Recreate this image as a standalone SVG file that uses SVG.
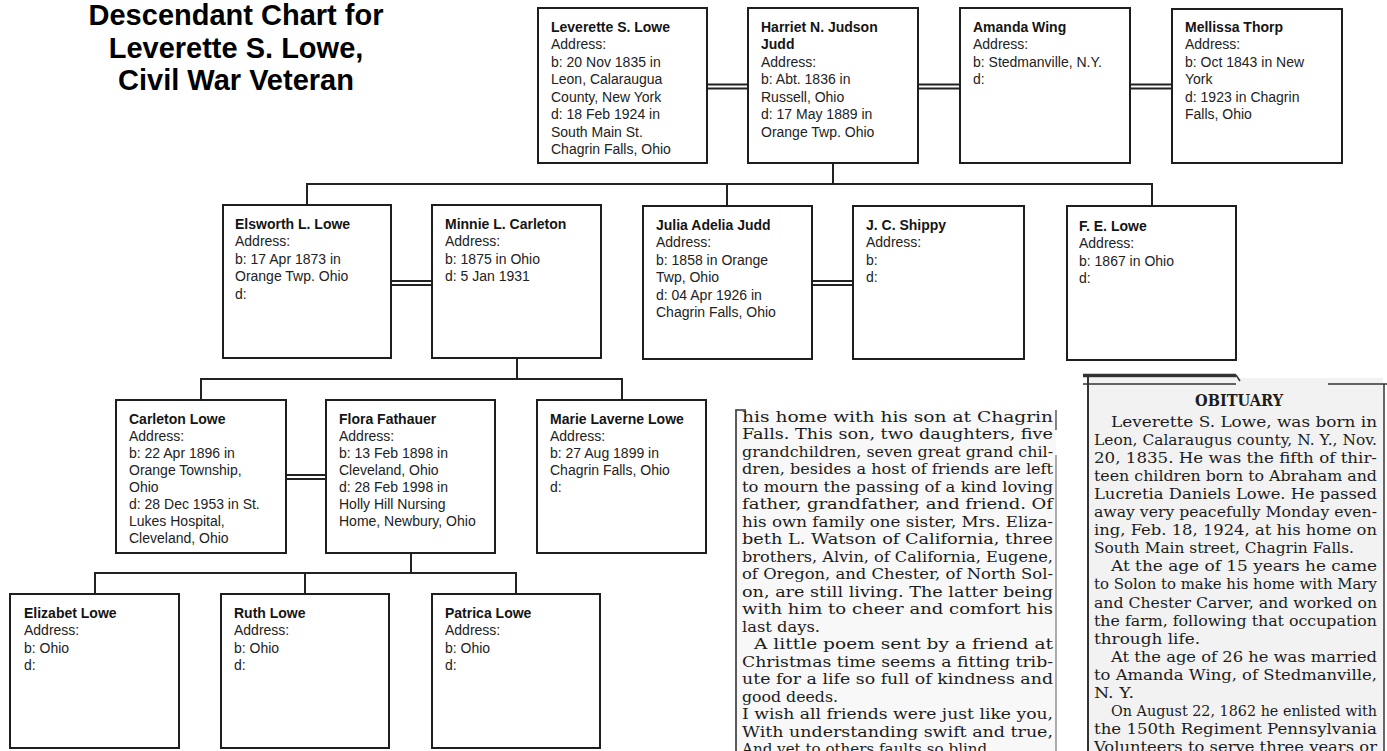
<svg xmlns="http://www.w3.org/2000/svg" width="1387" height="751" viewBox="0 0 1387 751">
<style>
.bg{fill:#ffffff}
.box{fill:#ffffff;stroke:#1e1e1e;stroke-width:2}
.ln{stroke:#222;stroke-width:2;fill:none}
.t{font-family:"Liberation Sans",Arial,sans-serif;font-size:14px;fill:#222}
.nm{font-weight:bold;fill:#151515}
.title{font-family:"Liberation Sans",Arial,sans-serif;font-size:29px;font-weight:bold;fill:#000;text-anchor:middle}
.np{font-family:"DejaVu Serif","Liberation Serif",serif;font-size:14.5px;fill:#1c1c1c}
.np2{font-family:"DejaVu Serif","Liberation Serif",serif;font-size:14px;fill:#1c1c1c}
.npb{font-family:"DejaVu Serif","Liberation Serif",serif;font-size:16px;font-weight:bold;fill:#1c1c1c}
.clipedge{stroke:#333;fill:none}
</style>
<rect class="bg" x="0" y="0" width="1387" height="751"/>

<g id="title">
<text class="title" x="236" y="25">Descendant Chart for</text>
<text class="title" x="236" y="57.5">Leverette S. Lowe,</text>
<text class="title" x="236" y="90">Civil War Veteran</text>
</g>

<g id="connectors">
<line class="ln" x1="707" y1="84.5" x2="748" y2="84.5" stroke-width="1.6"/>
<line class="ln" x1="707" y1="88.5" x2="748" y2="88.5" stroke-width="1.6"/>
<line class="ln" x1="918" y1="84.5" x2="960" y2="84.5" stroke-width="1.6"/>
<line class="ln" x1="918" y1="88.5" x2="960" y2="88.5" stroke-width="1.6"/>
<line class="ln" x1="1130" y1="84.5" x2="1172" y2="84.5" stroke-width="1.6"/>
<line class="ln" x1="1130" y1="88.5" x2="1172" y2="88.5" stroke-width="1.6"/>
<polyline class="ln" points="833,163 833,184"/>
<polyline class="ln" points="307,205 307,184 1152,184 1152,206"/>
<line class="ln" x1="727" y1="184" x2="727" y2="206"/>
<line class="ln" x1="391" y1="281" x2="432" y2="281" stroke-width="1.6"/>
<line class="ln" x1="391" y1="285" x2="432" y2="285" stroke-width="1.6"/>
<line class="ln" x1="812" y1="281" x2="853" y2="281" stroke-width="1.6"/>
<line class="ln" x1="812" y1="285" x2="853" y2="285" stroke-width="1.6"/>
<polyline class="ln" points="517,358 517,379"/>
<polyline class="ln" points="201,400 201,379 622,379 622,400"/>
<line class="ln" x1="286" y1="475" x2="326" y2="475" stroke-width="1.6"/>
<line class="ln" x1="286" y1="479" x2="326" y2="479" stroke-width="1.6"/>
<polyline class="ln" points="411,553 411,573"/>
<polyline class="ln" points="95,594 95,573 516,573 516,594"/>
<line class="ln" x1="305" y1="573" x2="305" y2="594"/>
</g>

<g id="n-leverette">
<rect class="box" x="538" y="8" width="169" height="155"/>
<text class="t" x="551" y="31.7"><tspan class="nm">Leverette S. Lowe</tspan><tspan x="551" dy="17.47">Address:</tspan><tspan x="551" dy="17.47">b: 20 Nov 1835 in</tspan><tspan x="551" dy="17.47">Leon, Calaraugua</tspan><tspan x="551" dy="17.47">County, New York</tspan><tspan x="551" dy="17.47">d: 18 Feb 1924 in</tspan><tspan x="551" dy="17.47">South Main St.</tspan><tspan x="551" dy="17.47">Chagrin Falls, Ohio</tspan></text>
</g>
<g id="n-harriet">
<rect class="box" x="748" y="8" width="170" height="155"/>
<text class="t" x="761" y="31.7"><tspan class="nm">Harriet N. Judson</tspan><tspan x="761" dy="17.47" class="nm">Judd</tspan><tspan x="761" dy="17.47">Address:</tspan><tspan x="761" dy="17.47">b: Abt. 1836 in</tspan><tspan x="761" dy="17.47">Russell, Ohio</tspan><tspan x="761" dy="17.47">d: 17 May 1889 in</tspan><tspan x="761" dy="17.47">Orange Twp. Ohio</tspan></text>
</g>
<g id="n-amanda">
<rect class="box" x="960" y="8" width="170" height="155"/>
<text class="t" x="973" y="31.7"><tspan class="nm">Amanda Wing</tspan><tspan x="973" dy="17.47">Address:</tspan><tspan x="973" dy="17.47">b: Stedmanville, N.Y.</tspan><tspan x="973" dy="17.47">d:</tspan></text>
</g>
<g id="n-mellissa">
<rect class="box" x="1172" y="9" width="170" height="154"/>
<text class="t" x="1185" y="31.7"><tspan class="nm">Mellissa Thorp</tspan><tspan x="1185" dy="17.47">Address:</tspan><tspan x="1185" dy="17.47">b: Oct 1843 in New</tspan><tspan x="1185" dy="17.47">York</tspan><tspan x="1185" dy="17.47">d: 1923 in Chagrin</tspan><tspan x="1185" dy="17.47">Falls, Ohio</tspan></text>
</g>

<g id="n-elsworth">
<rect class="box" x="223" y="205" width="168" height="153"/>
<text class="t" x="235" y="229"><tspan class="nm">Elsworth L. Lowe</tspan><tspan x="235" dy="17.4">Address:</tspan><tspan x="235" dy="17.4">b: 17 Apr 1873 in</tspan><tspan x="235" dy="17.4">Orange Twp. Ohio</tspan><tspan x="235" dy="17.4">d:</tspan></text>
</g>
<g id="n-minnie">
<rect class="box" x="432" y="205" width="169" height="153"/>
<text class="t" x="445" y="229"><tspan class="nm">Minnie L. Carleton</tspan><tspan x="445" dy="17.4">Address:</tspan><tspan x="445" dy="17.4">b: 1875 in Ohio</tspan><tspan x="445" dy="17.4">d: 5 Jan 1931</tspan></text>
</g>
<g id="n-julia">
<rect class="box" x="643" y="206" width="169" height="153"/>
<text class="t" x="656" y="230"><tspan class="nm">Julia Adelia Judd</tspan><tspan x="656" dy="17.4">Address:</tspan><tspan x="656" dy="17.4">b: 1858 in Orange</tspan><tspan x="656" dy="17.4">Twp, Ohio</tspan><tspan x="656" dy="17.4">d: 04 Apr 1926 in</tspan><tspan x="656" dy="17.4">Chagrin Falls, Ohio</tspan></text>
</g>
<g id="n-shippy">
<rect class="box" x="853" y="206" width="171" height="153"/>
<text class="t" x="866" y="230"><tspan class="nm">J. C. Shippy</tspan><tspan x="866" dy="17.4">Address:</tspan><tspan x="866" dy="17.4">b:</tspan><tspan x="866" dy="17.4">d:</tspan></text>
</g>
<g id="n-fe">
<rect class="box" x="1067" y="206" width="169" height="154"/>
<text class="t" x="1079" y="231"><tspan class="nm">F. E. Lowe</tspan><tspan x="1079" dy="17.4">Address:</tspan><tspan x="1079" dy="17.4">b: 1867 in Ohio</tspan><tspan x="1079" dy="17.4">d:</tspan></text>
</g>

<g id="n-carleton">
<rect class="box" x="116" y="400" width="170" height="153"/>
<text class="t" x="129" y="423.5"><tspan class="nm">Carleton Lowe</tspan><tspan x="129" dy="17">Address:</tspan><tspan x="129" dy="17">b: 22 Apr 1896 in</tspan><tspan x="129" dy="17">Orange Township,</tspan><tspan x="129" dy="17">Ohio</tspan><tspan x="129" dy="17">d: 28 Dec 1953 in St.</tspan><tspan x="129" dy="17">Lukes Hospital,</tspan><tspan x="129" dy="17">Cleveland, Ohio</tspan></text>
</g>
<g id="n-flora">
<rect class="box" x="326" y="400" width="169" height="153"/>
<text class="t" x="339" y="423.5"><tspan class="nm">Flora Fathauer</tspan><tspan x="339" dy="17">Address:</tspan><tspan x="339" dy="17">b: 13 Feb 1898 in</tspan><tspan x="339" dy="17">Cleveland, Ohio</tspan><tspan x="339" dy="17">d: 28 Feb 1998 in</tspan><tspan x="339" dy="17">Holly Hill Nursing</tspan><tspan x="339" dy="17">Home, Newbury, Ohio</tspan></text>
</g>
<g id="n-marie">
<rect class="box" x="537" y="400" width="169" height="153"/>
<text class="t" x="550" y="423.5"><tspan class="nm">Marie Laverne Lowe</tspan><tspan x="550" dy="17">Address:</tspan><tspan x="550" dy="17">b: 27 Aug 1899 in</tspan><tspan x="550" dy="17">Chagrin Falls, Ohio</tspan><tspan x="550" dy="17">d:</tspan></text>
</g>

<g id="n-elizabet">
<rect class="box" x="10" y="594" width="169" height="154"/>
<text class="t" x="24" y="618"><tspan class="nm">Elizabet Lowe</tspan><tspan x="24" dy="17.4">Address:</tspan><tspan x="24" dy="17.4">b: Ohio</tspan><tspan x="24" dy="17.4">d:</tspan></text>
</g>
<g id="n-ruth">
<rect class="box" x="221" y="594" width="168" height="154"/>
<text class="t" x="234" y="618"><tspan class="nm">Ruth Lowe</tspan><tspan x="234" dy="17.4">Address:</tspan><tspan x="234" dy="17.4">b: Ohio</tspan><tspan x="234" dy="17.4">d:</tspan></text>
</g>
<g id="n-patrica">
<rect class="box" x="432" y="594" width="168" height="154"/>
<text class="t" x="445" y="618"><tspan class="nm">Patrica Lowe</tspan><tspan x="445" dy="17.4">Address:</tspan><tspan x="445" dy="17.4">b: Ohio</tspan><tspan x="445" dy="17.4">d:</tspan></text>
</g>

<g id="clipping-1">
<rect x="736" y="410" width="320" height="341" fill="#f8f8f8"/>
<path class="clipedge" d="M746,410 H736 V751" stroke-width="1.6"/>
<path class="clipedge" d="M1056,410 V430" stroke-width="1.2" stroke="#555"/>
<path class="clipedge" d="M1056,455 V751" stroke-width="0.8" stroke="#bbb"/>
<g class="np">
<text x="742" y="421.5" textLength="311" lengthAdjust="spacingAndGlyphs">his home with his son at Chagrin</text>
<text x="742" y="439" textLength="311" lengthAdjust="spacingAndGlyphs">Falls. This son, two daughters, five</text>
<text x="742" y="456.5" textLength="311" lengthAdjust="spacingAndGlyphs">grandchildren, seven great grand chil-</text>
<text x="742" y="474" textLength="311" lengthAdjust="spacingAndGlyphs">dren, besides a host of friends are left</text>
<text x="742" y="491.5" textLength="311" lengthAdjust="spacingAndGlyphs">to mourn the passing of a kind loving</text>
<text x="742" y="509" textLength="311" lengthAdjust="spacingAndGlyphs">father, grandfather, and friend. Of</text>
<text x="742" y="526.5" textLength="311" lengthAdjust="spacingAndGlyphs">his own family one sister, Mrs. Eliza-</text>
<text x="742" y="544" textLength="311" lengthAdjust="spacingAndGlyphs">beth L. Watson of California, three</text>
<text x="742" y="561.5" textLength="311" lengthAdjust="spacingAndGlyphs">brothers, Alvin, of California, Eugene,</text>
<text x="742" y="579" textLength="311" lengthAdjust="spacingAndGlyphs">of Oregon, and Chester, of North Sol-</text>
<text x="742" y="596.5" textLength="311" lengthAdjust="spacingAndGlyphs">on, are still living. The latter being</text>
<text x="742" y="614" textLength="311" lengthAdjust="spacingAndGlyphs">with him to cheer and comfort his</text>
<text x="742" y="631.5" textLength="78" lengthAdjust="spacingAndGlyphs">last days.</text>
<text x="754" y="649" textLength="299" lengthAdjust="spacingAndGlyphs">A little poem sent by a friend at</text>
<text x="742" y="666.5" textLength="311" lengthAdjust="spacingAndGlyphs">Christmas time seems a fitting trib-</text>
<text x="742" y="684" textLength="311" lengthAdjust="spacingAndGlyphs">ute for a life so full of kindness and</text>
<text x="742" y="701.5" textLength="96" lengthAdjust="spacingAndGlyphs">good deeds.</text>
<text x="742" y="719" textLength="311" lengthAdjust="spacingAndGlyphs">I wish all friends were just like you,</text>
<text x="742" y="736.5" textLength="311" lengthAdjust="spacingAndGlyphs">With understanding swift and true,</text>
<text x="742" y="754" textLength="250" lengthAdjust="spacingAndGlyphs">And yet to others faults so blind,</text>
</g>
</g>

<g id="clipping-2">
<rect x="1088" y="378" width="295" height="373" fill="#f2f2f2"/>
<path class="clipedge" d="M1083,375.5 H1236" stroke-width="3.5" stroke="#222"/>
<path class="clipedge" d="M1083,384 H1236 M1328,384 H1387" stroke-width="1.5" stroke="#333"/>
<path class="clipedge" d="M1236,375 L1240,381" stroke-width="1.5"/>
<path class="clipedge" d="M1088,376 V751" stroke-width="2" stroke="#444"/>
<path class="clipedge" d="M1384,384 V751" stroke-width="1.5" stroke="#666"/>
<g class="np2">
<text class="npb" x="1195" y="406" textLength="88" lengthAdjust="spacingAndGlyphs">OBITUARY</text>
<text x="1111" y="426.5" textLength="266" lengthAdjust="spacingAndGlyphs">Leverette S. Lowe, was born in</text>
<text x="1094" y="444.6" textLength="283" lengthAdjust="spacingAndGlyphs">Leon, Calaraugus county, N. Y., Nov.</text>
<text x="1094" y="462.7" textLength="283" lengthAdjust="spacingAndGlyphs">20, 1835. He was the fifth of thir-</text>
<text x="1094" y="480.8" textLength="283" lengthAdjust="spacingAndGlyphs">teen children born to Abraham and</text>
<text x="1094" y="498.9" textLength="283" lengthAdjust="spacingAndGlyphs">Lucretia Daniels Lowe. He passed</text>
<text x="1094" y="517" textLength="283" lengthAdjust="spacingAndGlyphs">away very peacefully Monday even-</text>
<text x="1094" y="535.1" textLength="283" lengthAdjust="spacingAndGlyphs">ing, Feb. 18, 1924, at his home on</text>
<text x="1094" y="553.2" textLength="260" lengthAdjust="spacingAndGlyphs">South Main street, Chagrin Falls.</text>
<text x="1111" y="571.3" textLength="266" lengthAdjust="spacingAndGlyphs">At the age of 15 years he came</text>
<text x="1094" y="589.4" textLength="283" lengthAdjust="spacingAndGlyphs">to Solon to make his home with Mary</text>
<text x="1094" y="607.5" textLength="283" lengthAdjust="spacingAndGlyphs">and Chester Carver, and worked on</text>
<text x="1094" y="625.6" textLength="283" lengthAdjust="spacingAndGlyphs">the farm, following that occupation</text>
<text x="1094" y="643.7" textLength="106" lengthAdjust="spacingAndGlyphs">through life.</text>
<text x="1111" y="661.8" textLength="266" lengthAdjust="spacingAndGlyphs">At the age of 26 he was married</text>
<text x="1094" y="679.9" textLength="283" lengthAdjust="spacingAndGlyphs">to Amanda Wing, of Stedmanville,</text>
<text x="1094" y="698" textLength="40" lengthAdjust="spacingAndGlyphs">N. Y.</text>
<text x="1111" y="716.1" textLength="266" lengthAdjust="spacingAndGlyphs">On August 22, 1862 he enlisted with</text>
<text x="1094" y="734.2" textLength="283" lengthAdjust="spacingAndGlyphs">the 150th Regiment Pennsylvania</text>
<text x="1094" y="752.3" textLength="283" lengthAdjust="spacingAndGlyphs">Volunteers to serve three years or</text>
</g>
</g>
</svg>
